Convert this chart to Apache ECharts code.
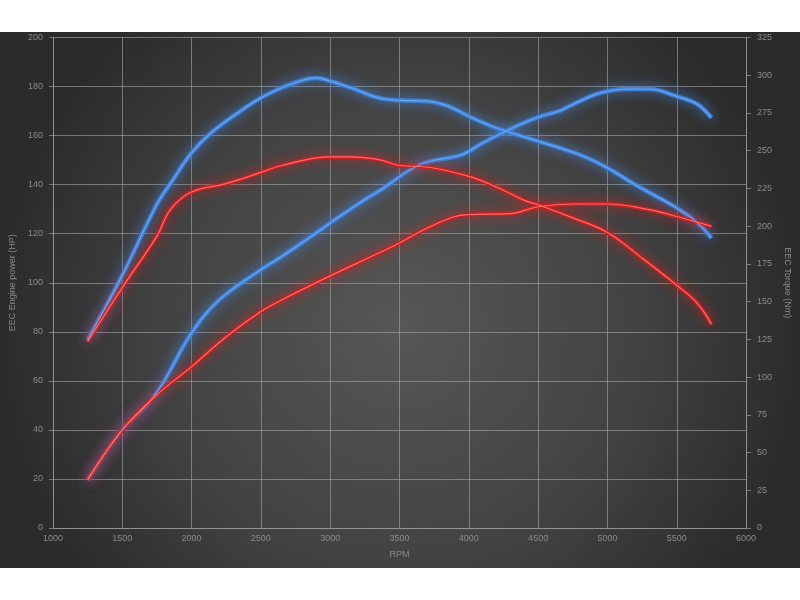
<!DOCTYPE html>
<html>
<head>
<meta charset="utf-8">
<script src="https://cdn.jsdelivr.net/npm/echarts@6/dist/echarts.min.js"></script>
<style>
html,body{margin:0;padding:0;background:#ffffff;}
#c{width:800px;height:600px;}
</style>
</head>
<body>
<div id="c"></div>
<script>
// Blue tune
const bluePowerRpm = [1250,1500,1700,1800,2000,2200,2500,2650,2950,3000,3250,3350,3650,3950,4100,4350,4500,4650,4750,4950,5150,5300,5500,5650,5750];
const bluePowerHp  = [19.6,40,51.6,59.7,79.5,93,105.3,110.7,122.3,124.4,133.9,137.3,148.2,152.2,157,164,167.5,170,172.7,177.4,179,179,176,172.7,167.2];
const blueTorqueRpm = [1250,1500,1750,1850,2000,2150,2350,2500,2650,2800,2900,3000,3150,3350,3500,3700,3850,4000,4200,4500,4800,5000,5200,5500,5650,5750];
const blueTorqueNm  = [124.6,167.4,214.5,228.5,248.5,262.5,276.1,285,291.7,296.7,298.2,296.1,291.7,285,283.4,282.8,279.5,272.8,265,256.3,247.3,238.6,227.5,212.1,202.2,192.1];
// Red tune
const redPowerRpm = [1250,1500,1750,2000,2250,2500,2650,3000,3350,3500,3700,3900,4000,4300,4500,4750,5000,5300,5500,5750];
const redPowerHp  = [19.6,40,54.3,65.8,78,88.3,93,102.8,112.1,116.2,122.3,127,127.8,128.2,131,132.1,132.1,129.8,127,123];
const redTorqueRpm = [1250,1500,1750,1850,2000,2250,2500,2650,3000,3150,3350,3500,3700,4000,4200,4400,4500,4750,5000,5250,5500,5650,5750];
const redTorqueNm  = [123.5,159.3,193.4,211.3,222.6,228.2,235.6,240.2,245.9,245.9,244.1,240.2,239.2,233,225.9,217.1,214.2,205.5,195.8,178.8,160.9,148.7,134.9];
// Axes
const xTicks = {min:1000, max:6000, interval:500};
const hpTicks = {min:0, max:200, interval:20};
const nmTicks = {min:0, max:325, interval:25};

const zip = (a,b) => a.map((v,i)=>[v,b[i]]);

function glowSeries(name, data, yIdx, color, glow, width){
  return {name, type:'line', data, yAxisIndex:yIdx, smooth:0.4, symbol:'none',
    lineStyle:{color, width, shadowBlur:12, shadowColor:glow}, z:2};
}
function coreSeries(name, data, yIdx, color){
  return {name:name+' core', type:'line', data, yAxisIndex:yIdx, smooth:0.4, symbol:'none',
    lineStyle:{color, width:1.2}, z:3};
}

const labelColor = '#8a8a8a';
const gridColor = 'rgba(160,160,160,0.65)';
const font = 'Liberation Sans';

const chart = echarts.init(document.getElementById('c'));
const bp = zip(bluePowerRpm, bluePowerHp), bt = zip(blueTorqueRpm, blueTorqueNm);
const rp = zip(redPowerRpm, redPowerHp), rt = zip(redTorqueRpm, redTorqueNm);
chart.setOption({
  animation:false,
  backgroundColor:'transparent',
  graphic:[{type:'rect', silent:true, z:-100, zlevel:0,
    shape:{x:0,y:32,width:800,height:536},
    style:{fill:new echarts.graphic.RadialGradient(0.5,0.55,0.75,[
      {offset:0,color:'#575757'},{offset:0.6,color:'#424242'},{offset:1,color:'#2b2b2b'}])}}],
  grid:{left:50,right:51,top:37.5,bottom:72},
  xAxis:{type:'value', min:xTicks.min, max:xTicks.max, interval:xTicks.interval,
    name:'RPM', nameLocation:'middle', nameGap:22,
    nameTextStyle:{color:labelColor, fontSize:9, fontFamily:font},
    axisLine:{show:true, lineStyle:{color:gridColor}},
    axisTick:{show:false},
    axisLabel:{color:labelColor, fontSize:9, fontFamily:font, margin:6, formatter:v=>String(v)},
    splitLine:{show:true, lineStyle:{color:gridColor, width:1}}},
  yAxis:[
    {type:'value', min:hpTicks.min, max:hpTicks.max, interval:hpTicks.interval,
     name:'EEC Engine power (HP)', nameLocation:'middle', nameGap:33,
     nameTextStyle:{color:labelColor, fontSize:9, fontFamily:font},
     axisLine:{show:true, lineStyle:{color:gridColor}},
     axisTick:{show:true, length:4, lineStyle:{color:gridColor}},
     axisLabel:{color:labelColor, fontSize:9, fontFamily:font, margin:10},
     splitLine:{show:true, lineStyle:{color:gridColor, width:1}}},
    {type:'value', min:nmTicks.min, max:nmTicks.max, interval:nmTicks.interval,
     name:'EEC Torque (Nm)', nameLocation:'middle', nameGap:35, nameRotate:-90,
     nameTextStyle:{color:labelColor, fontSize:9, fontFamily:font},
     axisLine:{show:true, lineStyle:{color:gridColor}},
     axisTick:{show:true, length:5, lineStyle:{color:gridColor}},
     axisLabel:{color:labelColor, fontSize:9, fontFamily:font, margin:11},
     splitLine:{show:false}}
  ],
  series:[
    glowSeries('Blue power', bp, 0, '#3f7fd6', 'rgba(70,140,240,0.9)', 4.5),
    glowSeries('Blue torque', bt, 1, '#3f7fd6', 'rgba(70,140,240,0.9)', 4.5),
    glowSeries('Red power', rp, 0, '#c42323', 'rgba(230,30,30,0.9)', 4),
    glowSeries('Red torque', rt, 1, '#c42323', 'rgba(230,30,30,0.9)', 4),
    coreSeries('Blue power', bp, 0, '#6aa6ee'),
    coreSeries('Blue torque', bt, 1, '#6aa6ee'),
    coreSeries('Red power', rp, 0, '#ff6a6a'),
    coreSeries('Red torque', rt, 1, '#ff6a6a')
  ]
});
</script>
</body>
</html>
